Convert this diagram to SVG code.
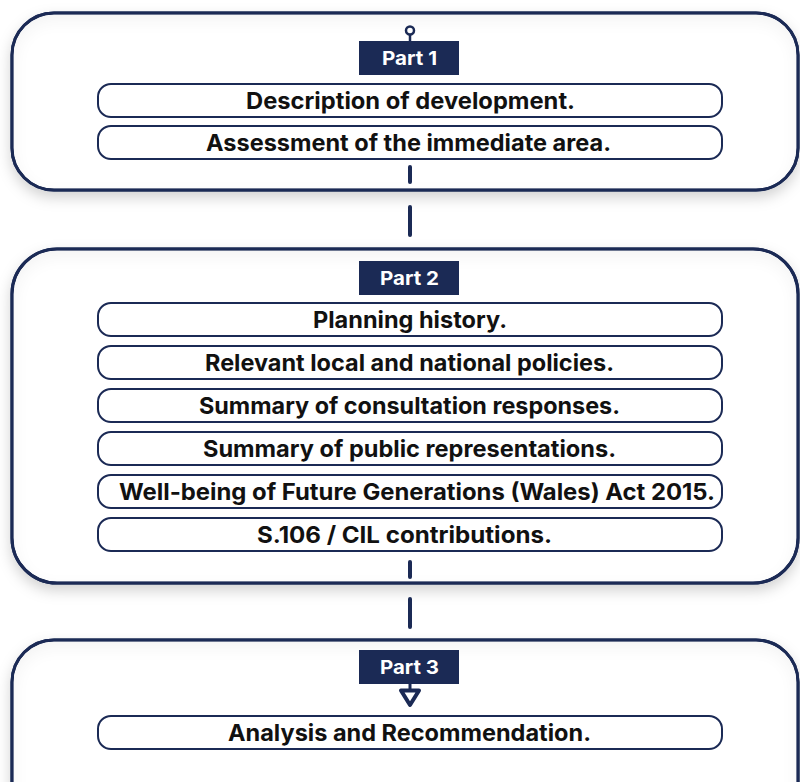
<svg xmlns="http://www.w3.org/2000/svg" width="800" height="782" viewBox="0 0 800 782">
<defs>
<filter id="sh" x="-10%" y="-20%" width="120%" height="140%">
<feDropShadow dx="0" dy="6" stdDeviation="7" flood-color="#000" flood-opacity="0.18"/>
</filter>
<filter id="inner" x="-5%" y="-10%" width="110%" height="120%">
<feGaussianBlur in="SourceAlpha" stdDeviation="8" result="b"/>
<feOffset dy="6" result="o"/>
<feComposite in="SourceAlpha" in2="o" operator="out" result="inv"/>
<feFlood flood-color="#000" flood-opacity="0.10"/>
<feComposite in2="inv" operator="in" result="s"/>
<feMerge><feMergeNode in="SourceGraphic"/><feMergeNode in="s"/></feMerge>
</filter>
</defs>
<style>
.outer{fill:#fff;stroke:#1b2a55;stroke-width:3}
.pill{fill:#fff;stroke:#1b2a55;stroke-width:2}
.tag{fill:#1b2a55}
.t{font-family:Inter,"Liberation Sans",sans-serif;font-weight:700;font-size:23px;fill:#111;text-anchor:middle}
.tt{font-family:Inter,"Liberation Sans",sans-serif;font-weight:700;font-size:19px;fill:#fff;text-anchor:middle}
.con{stroke:#1b2a55;stroke-width:4;stroke-linecap:round;fill:none}
</style>
<rect width="800" height="782" fill="#fff"/>

<g id="part1">
<rect class="outer" x="12" y="13" width="786" height="177" rx="42" filter="url(#sh)"/>
<rect x="13.5" y="14.5" width="783" height="174" rx="41" fill="#fff" filter="url(#inner)"/>
<rect x="12" y="13" width="786" height="177" rx="42" fill="none" stroke="#1b2a55" stroke-width="3"/>
<line x1="410" y1="35" x2="410" y2="41" stroke="#1b2a55" stroke-width="2.5"/>
<circle cx="410" cy="30.5" r="4" fill="#fff" stroke="#1b2a55" stroke-width="2.5"/>
<rect class="tag" x="359" y="41" width="100" height="34"/>
<text class="tt" x="409.5" y="65" textLength="55" lengthAdjust="spacingAndGlyphs">Part 1</text>
<rect class="pill" x="98" y="84" width="624" height="33" rx="13"/>
<text class="t" x="410.5" y="109" textLength="329" lengthAdjust="spacingAndGlyphs">Description of development.</text>
<rect class="pill" x="98" y="126" width="624" height="33" rx="13"/>
<text class="t" x="408.5" y="151" textLength="405" lengthAdjust="spacingAndGlyphs">Assessment of the immediate area.</text>
</g>

<g id="part2">
<rect class="outer" x="12" y="249" width="786" height="334" rx="45" filter="url(#sh)"/>
<rect x="13.5" y="250.5" width="783" height="331" rx="44" fill="#fff" filter="url(#inner)"/>
<rect x="12" y="249" width="786" height="334" rx="45" fill="none" stroke="#1b2a55" stroke-width="3"/>
<rect class="tag" x="359" y="261" width="100" height="34"/>
<text class="tt" x="409.5" y="285" textLength="59" lengthAdjust="spacingAndGlyphs">Part 2</text>
<rect class="pill" x="98" y="303" width="624" height="33" rx="13"/>
<text class="t" x="410" y="328" textLength="194" lengthAdjust="spacingAndGlyphs">Planning history.</text>
<rect class="pill" x="98" y="346" width="624" height="33" rx="13"/>
<text class="t" x="409.5" y="371" textLength="409" lengthAdjust="spacingAndGlyphs">Relevant local and national policies.</text>
<rect class="pill" x="98" y="389" width="624" height="33" rx="13"/>
<text class="t" x="409.5" y="414" textLength="421" lengthAdjust="spacingAndGlyphs">Summary of consultation responses.</text>
<rect class="pill" x="98" y="432" width="624" height="33" rx="13"/>
<text class="t" x="409.5" y="457" textLength="413" lengthAdjust="spacingAndGlyphs">Summary of public representations.</text>
<rect class="pill" x="98" y="475" width="624" height="33" rx="13"/>
<text class="t" x="417" y="500" textLength="596" lengthAdjust="spacingAndGlyphs">Well-being of Future Generations (Wales) Act 2015.</text>
<rect class="pill" x="98" y="518" width="624" height="33" rx="13"/>
<text class="t" x="404.5" y="543" textLength="295" lengthAdjust="spacingAndGlyphs">S.106 / CIL contributions.</text>
</g>

<g id="part3">
<rect class="outer" x="12" y="640" width="786" height="200" rx="42" filter="url(#sh)"/>
<rect x="13.5" y="641.5" width="783" height="197" rx="41" fill="#fff" filter="url(#inner)"/>
<rect x="12" y="640" width="786" height="200" rx="42" fill="none" stroke="#1b2a55" stroke-width="3"/>
<rect class="tag" x="359" y="650" width="100" height="34"/>
<text class="tt" x="409.5" y="674" textLength="59" lengthAdjust="spacingAndGlyphs">Part 3</text>
<line x1="410" y1="684" x2="410" y2="691" stroke="#1b2a55" stroke-width="3"/>
<polygon points="401,690.5 419,690.5 410,705" fill="#fff" stroke="#1b2a55" stroke-width="4" stroke-linejoin="round"/>
<rect class="pill" x="98" y="716" width="624" height="33" rx="13"/>
<text class="t" x="409.5" y="741" textLength="363" lengthAdjust="spacingAndGlyphs">Analysis and Recommendation.</text>
</g>

<g id="connectors">
<line class="con" x1="410" y1="167" x2="410" y2="182"/>
<line class="con" x1="410" y1="207" x2="410" y2="235"/>
<line class="con" x1="410" y1="562" x2="410" y2="577"/>
<line class="con" x1="410" y1="599" x2="410" y2="627"/>
</g>
</svg>
